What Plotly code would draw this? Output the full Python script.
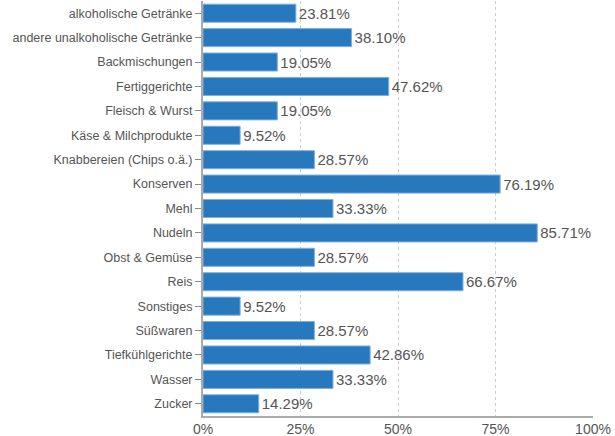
import plotly.graph_objects as go

categories = [
    "alkoholische Getränke",
    "andere unalkoholische Getränke",
    "Backmischungen",
    "Fertiggerichte",
    "Fleisch & Wurst",
    "Käse & Milchprodukte",
    "Knabbereien (Chips o.ä.)",
    "Konserven",
    "Mehl",
    "Nudeln",
    "Obst & Gemüse",
    "Reis",
    "Sonstiges",
    "Süßwaren",
    "Tiefkühlgerichte",
    "Wasser",
    "Zucker",
]
shares = [23.81, 38.10, 19.05, 47.62, 19.05, 9.52, 28.57, 76.19, 33.33,
          85.71, 28.57, 66.67, 9.52, 28.57, 42.86, 33.33, 14.29]
x_ticks = [0, 25, 50, 75, 100]
x_tick_labels = ["0%", "25%", "50%", "75%", "100%"]

FONT = "Liberation Sans, Arial, Helvetica, sans-serif"
GREY = "#555555"

fig = go.Figure(
    go.Bar(
        x=shares,
        y=categories,
        orientation="h",
        marker=dict(color="#2878BE", line=dict(color="#7fb0dd", width=1)),
        text=[f"{v:.2f}%" for v in shares],
        textposition="outside",
        textfont=dict(family=FONT, size=15, color=GREY),
        constraintext="none",
        cliponaxis=False,
        width=0.74,
    )
)

fig.update_layout(
    width=615,
    height=436,
    margin=dict(l=203, r=22, t=1, b=20, autoexpand=False),
    paper_bgcolor="white",
    plot_bgcolor="white",
    showlegend=False,
    font=dict(family=FONT, color=GREY),
)

fig.update_xaxes(
    range=[0, 100],
    tickvals=x_ticks,
    ticktext=x_tick_labels,
    tickfont=dict(family=FONT, size=14, color=GREY),
    ticklabelstandoff=-1,
    automargin=False,
    showgrid=True,
    gridcolor="#cccccc",
    griddash="dot",
    gridwidth=1,
    showline=True,
    linecolor="#aaaaaa",
    linewidth=2,
    zeroline=False,
    ticks="",
    ticklen=0,
)

fig.update_yaxes(
    autorange="reversed",
    automargin=False,
    tickfont=dict(family=FONT, size=12.5, color=GREY),
    showline=True,
    linecolor="#aaaaaa",
    linewidth=2,
    ticks="outside",
    ticklen=6,
    tickcolor="#888888",
    showgrid=False,
)

fig.write_html("out.html")
